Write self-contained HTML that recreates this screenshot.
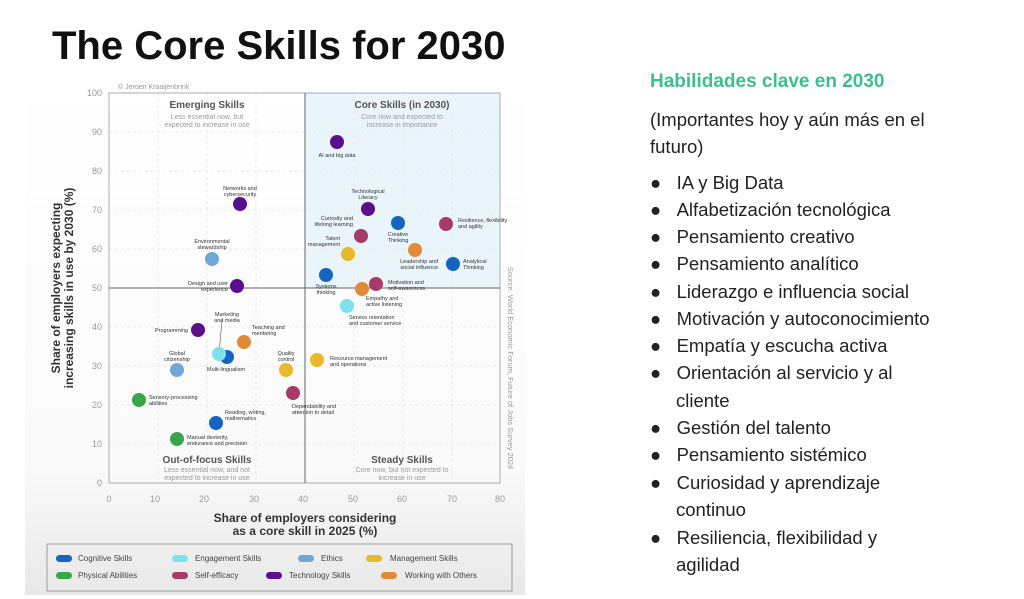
<!DOCTYPE html><html><head><meta charset="utf-8"><style>
body{margin:0;width:1024px;height:599px;background:#fff;position:relative;overflow:hidden;font-family:"Liberation Sans",sans-serif}
.t{position:absolute;font-size:18.5px;color:#222;white-space:nowrap;line-height:20px}
</style></head><body>
<svg width="1024" height="599" style="position:absolute;left:0;top:0" font-family="Liberation Sans, sans-serif">
<defs><linearGradient id="g" x1="0" y1="0" x2="0" y2="1"><stop offset="0" stop-color="#fff"/><stop offset="0.75" stop-color="#fafafa"/><stop offset="1" stop-color="#e8e8e8"/></linearGradient></defs>
<rect x="25" y="75" width="500" height="520" fill="url(#g)"/>
<text x="52" y="59" font-size="40" font-weight="bold" fill="#111">The Core Skills for 2030</text>
<text x="118" y="89" font-size="7" fill="#999">© Jeroen Kraaijenbrink</text>
<rect x="305" y="93" width="195" height="195" fill="#eaf4fb"/>
<g stroke="#e4e4e4" stroke-dasharray="3,3" stroke-width="0.8">
<line x1="109" x2="500" y1="132" y2="132"/><line x1="109" x2="500" y1="171" y2="171"/><line x1="109" x2="500" y1="210" y2="210"/><line x1="109" x2="500" y1="249" y2="249"/><line x1="109" x2="500" y1="327" y2="327"/><line x1="109" x2="500" y1="366" y2="366"/><line x1="109" x2="500" y1="405" y2="405"/><line x1="109" x2="500" y1="444" y2="444"/>
<line y1="93" y2="483" x1="158" x2="158"/><line y1="93" y2="483" x1="207" x2="207"/><line y1="93" y2="483" x1="256" x2="256"/><line y1="93" y2="483" x1="354" x2="354"/><line y1="93" y2="483" x1="403" x2="403"/><line y1="93" y2="483" x1="452" x2="452"/>
</g>
<rect x="109" y="93" width="391" height="390" fill="none" stroke="#999" stroke-width="0.8"/>
<line x1="305" x2="305" y1="93" y2="483" stroke="#666"/>
<line x1="109" x2="500" y1="288" y2="288" stroke="#666"/>
<g font-size="9" fill="#999" text-anchor="end">
<text x="102" y="96">100</text><text x="102" y="135">90</text><text x="102" y="174">80</text><text x="102" y="213">70</text><text x="102" y="252">60</text><text x="102" y="291">50</text><text x="102" y="330">40</text><text x="102" y="369">30</text><text x="102" y="408">20</text><text x="102" y="447">10</text><text x="102" y="486">0</text></g>
<g font-size="9" fill="#999" text-anchor="middle">
<text x="109" y="502">0</text><text x="155" y="502">10</text><text x="204" y="502">20</text><text x="254" y="502">30</text><text x="303" y="502">40</text><text x="353" y="502">50</text><text x="402" y="502">60</text><text x="452" y="502">70</text><text x="500" y="502">80</text></g>
<text x="305" y="522" font-size="12" font-weight="bold" fill="#333" text-anchor="middle">Share of employers considering</text>
<text x="305" y="535" font-size="12" font-weight="bold" fill="#333" text-anchor="middle">as a core skill in 2025 (%)</text>
<text transform="translate(60,288) rotate(-90)" font-size="12" font-weight="bold" fill="#333" text-anchor="middle">Share of employers expecting</text>
<text transform="translate(73,288) rotate(-90)" font-size="12" font-weight="bold" fill="#333" text-anchor="middle">increasing skills in use by 2030 (%)</text>
<text transform="translate(508,368) rotate(90)" font-size="7.5" fill="#999" text-anchor="middle">Source: World Economic Forum, Future of Jobs Survey 2024</text>
<g text-anchor="middle">
<text x="207" y="108" font-size="10" font-weight="bold" fill="#555">Emerging Skills</text>
<text x="207" y="119" font-size="7" fill="#999">Less essential now, but</text><text x="207" y="127" font-size="7" fill="#999">expected to increase in use</text>
<text x="402" y="108" font-size="10" font-weight="bold" fill="#555">Core Skills (in 2030)</text>
<text x="402" y="119" font-size="7" fill="#999">Core now and expected to</text><text x="402" y="127" font-size="7" fill="#999">increase in importance</text>
<text x="207" y="463" font-size="10" font-weight="bold" fill="#555">Out-of-focus Skills</text>
<text x="207" y="472" font-size="7" fill="#999">Less essential now, and not</text><text x="207" y="480" font-size="7" fill="#999">expected to increase in use</text>
<text x="402" y="463" font-size="10" font-weight="bold" fill="#555">Steady Skills</text>
<text x="402" y="472" font-size="7" fill="#999">Core now, but not expected to</text><text x="402" y="480" font-size="7" fill="#999">increase in use</text>
</g>
<line x1="219" y1="354" x2="222" y2="320" stroke="#555" stroke-width="0.6"/>
<g>
<circle cx="337" cy="142" r="7" fill="#5a0f8c"/><circle cx="240" cy="204" r="7" fill="#5a0f8c"/><circle cx="368" cy="209" r="7" fill="#5a0f8c"/>
<circle cx="361" cy="236" r="7" fill="#a83a6a"/><circle cx="398" cy="223" r="7" fill="#1565c0"/><circle cx="446" cy="224" r="7" fill="#a83a6a"/>
<circle cx="348" cy="254" r="7" fill="#e8b928"/><circle cx="212" cy="259" r="7" fill="#6fa8d6"/><circle cx="415" cy="250" r="7" fill="#e08a3a"/>
<circle cx="453" cy="264" r="7" fill="#1565c0"/><circle cx="326" cy="275" r="7" fill="#1565c0"/><circle cx="237" cy="286" r="7" fill="#5a0f8c"/>
<circle cx="376" cy="284" r="7" fill="#a83a6a"/><circle cx="362" cy="289" r="7" fill="#e08a3a"/><circle cx="347" cy="306" r="7" fill="#7fe0ee"/>
<circle cx="198" cy="330" r="7" fill="#5a0f8c"/><circle cx="244" cy="342" r="7" fill="#e08a3a"/>
<circle cx="227" cy="357" r="7" fill="#1565c0"/><circle cx="219" cy="354" r="7" fill="#7fe0ee"/>
<circle cx="177" cy="370" r="7" fill="#6fa8d6"/><circle cx="286" cy="370" r="7" fill="#e8b928"/><circle cx="317" cy="360" r="7" fill="#e8b928"/>
<circle cx="293" cy="393" r="7" fill="#a83a6a"/><circle cx="139" cy="400" r="7" fill="#3aa64a"/><circle cx="216" cy="423" r="7" fill="#1565c0"/><circle cx="177" cy="439" r="7" fill="#3aa64a"/>
</g>
<g font-size="5.5" fill="#333">
<text x="337" y="157" text-anchor="middle">AI and big data</text>
<text x="240" y="190" text-anchor="middle">Networks and</text><text x="240" y="196" text-anchor="middle">cybersecurity</text>
<text x="368" y="193" text-anchor="middle">Technological</text><text x="368" y="199" text-anchor="middle">Literacy</text>
<text x="353" y="220" text-anchor="end">Curiosity and</text><text x="353" y="226" text-anchor="end">lifelong learning</text>
<text x="398" y="236" text-anchor="middle">Creative</text><text x="398" y="242" text-anchor="middle">Thinking</text>
<text x="458" y="222">Resilience, flexibility</text><text x="458" y="228">and agility</text>
<text x="340" y="240" text-anchor="end">Talent</text><text x="340" y="246" text-anchor="end">management</text>
<text x="212" y="243" text-anchor="middle">Environmental</text><text x="212" y="249" text-anchor="middle">stewardship</text>
<text x="438" y="263" text-anchor="end">Leadership and</text><text x="438" y="269" text-anchor="end">social influence</text>
<text x="463" y="263">Analytical</text><text x="463" y="269">Thinking</text>
<text x="326" y="288" text-anchor="middle">Systems</text><text x="326" y="294" text-anchor="middle">thinking</text>
<text x="228" y="285" text-anchor="end">Design and user</text><text x="228" y="291" text-anchor="end">experience</text>
<text x="388" y="284">Motivation and</text><text x="388" y="290">self-awareness</text>
<text x="366" y="300">Empathy and</text><text x="366" y="306">active listening</text>
<text x="349" y="319">Service orientation</text><text x="349" y="325">and customer service</text>
<text x="188" y="332" text-anchor="end">Programming</text>
<text x="227" y="316" text-anchor="middle">Marketing</text><text x="227" y="322" text-anchor="middle">and media</text>
<text x="252" y="329">Teaching and</text><text x="252" y="335">mentoring</text>
<text x="177" y="355" text-anchor="middle">Global</text><text x="177" y="361" text-anchor="middle">citizenship</text>
<text x="226" y="371" text-anchor="middle">Multi-lingualism</text>
<text x="286" y="355" text-anchor="middle">Quality</text><text x="286" y="361" text-anchor="middle">control</text>
<text x="330" y="360">Resource management</text><text x="330" y="366">and operations</text>
<text x="292" y="408">Dependability and</text><text x="292" y="414">attention to detail</text>
<text x="149" y="399">Sensory-processing</text><text x="149" y="405">abilities</text>
<text x="225" y="414">Reading, writing,</text><text x="225" y="420">mathematics</text>
<text x="187" y="439">Manual dexterity,</text><text x="187" y="445">endurance and precision</text>
</g>
<rect x="47" y="544" width="465" height="47" fill="none" stroke="#888" stroke-width="0.8"/>
<g font-size="8" fill="#444">
<rect x="56" y="555" width="16" height="7" rx="3.5" fill="#1565c0"/><text x="78" y="561">Cognitive Skills</text>
<rect x="172" y="555" width="16" height="7" rx="3.5" fill="#7fe0ee"/><text x="195" y="561">Engagement Skills</text>
<rect x="298" y="555" width="16" height="7" rx="3.5" fill="#6fa8d6"/><text x="321" y="561">Ethics</text>
<rect x="366" y="555" width="16" height="7" rx="3.5" fill="#e8b928"/><text x="390" y="561">Management Skills</text>
<rect x="56" y="572" width="16" height="7" rx="3.5" fill="#3aa64a"/><text x="78" y="578">Physical Abilities</text>
<rect x="172" y="572" width="16" height="7" rx="3.5" fill="#a83a6a"/><text x="195" y="578">Self-efficacy</text>
<rect x="266" y="572" width="16" height="7" rx="3.5" fill="#5a0f8c"/><text x="289" y="578">Technology Skills</text>
<rect x="381" y="572" width="16" height="7" rx="3.5" fill="#e08a3a"/><text x="405" y="578">Working with Others</text>
</g>
</svg>
<div class="t" style="left:650px;top:72px;font-weight:bold;color:#3cbf8a;font-size:19px">Habilidades clave en 2030</div>
<div class="t" style="left:650px;top:110px">(Importantes hoy y aún más en el</div>
<div class="t" style="left:650px;top:137px">futuro)</div>
<div class="t" style="left:650px;top:173px">●&nbsp;&nbsp;&nbsp;IA y Big Data</div>
<div class="t" style="left:650px;top:200px">●&nbsp;&nbsp;&nbsp;Alfabetización tecnológica</div>
<div class="t" style="left:650px;top:227px">●&nbsp;&nbsp;&nbsp;Pensamiento creativo</div>
<div class="t" style="left:650px;top:254px">●&nbsp;&nbsp;&nbsp;Pensamiento analítico</div>
<div class="t" style="left:650px;top:282px">●&nbsp;&nbsp;&nbsp;Liderazgo e influencia social</div>
<div class="t" style="left:650px;top:309px">●&nbsp;&nbsp;&nbsp;Motivación y autoconocimiento</div>
<div class="t" style="left:650px;top:336px">●&nbsp;&nbsp;&nbsp;Empatía y escucha activa</div>
<div class="t" style="left:650px;top:363px">●&nbsp;&nbsp;&nbsp;Orientación al servicio y al</div>
<div class="t" style="left:676px;top:391px">cliente</div>
<div class="t" style="left:650px;top:418px">●&nbsp;&nbsp;&nbsp;Gestión del talento</div>
<div class="t" style="left:650px;top:445px">●&nbsp;&nbsp;&nbsp;Pensamiento sistémico</div>
<div class="t" style="left:650px;top:473px">●&nbsp;&nbsp;&nbsp;Curiosidad y aprendizaje</div>
<div class="t" style="left:676px;top:500px">continuo</div>
<div class="t" style="left:650px;top:528px">●&nbsp;&nbsp;&nbsp;Resiliencia, flexibilidad y</div>
<div class="t" style="left:676px;top:555px">agilidad</div>
</body></html>
